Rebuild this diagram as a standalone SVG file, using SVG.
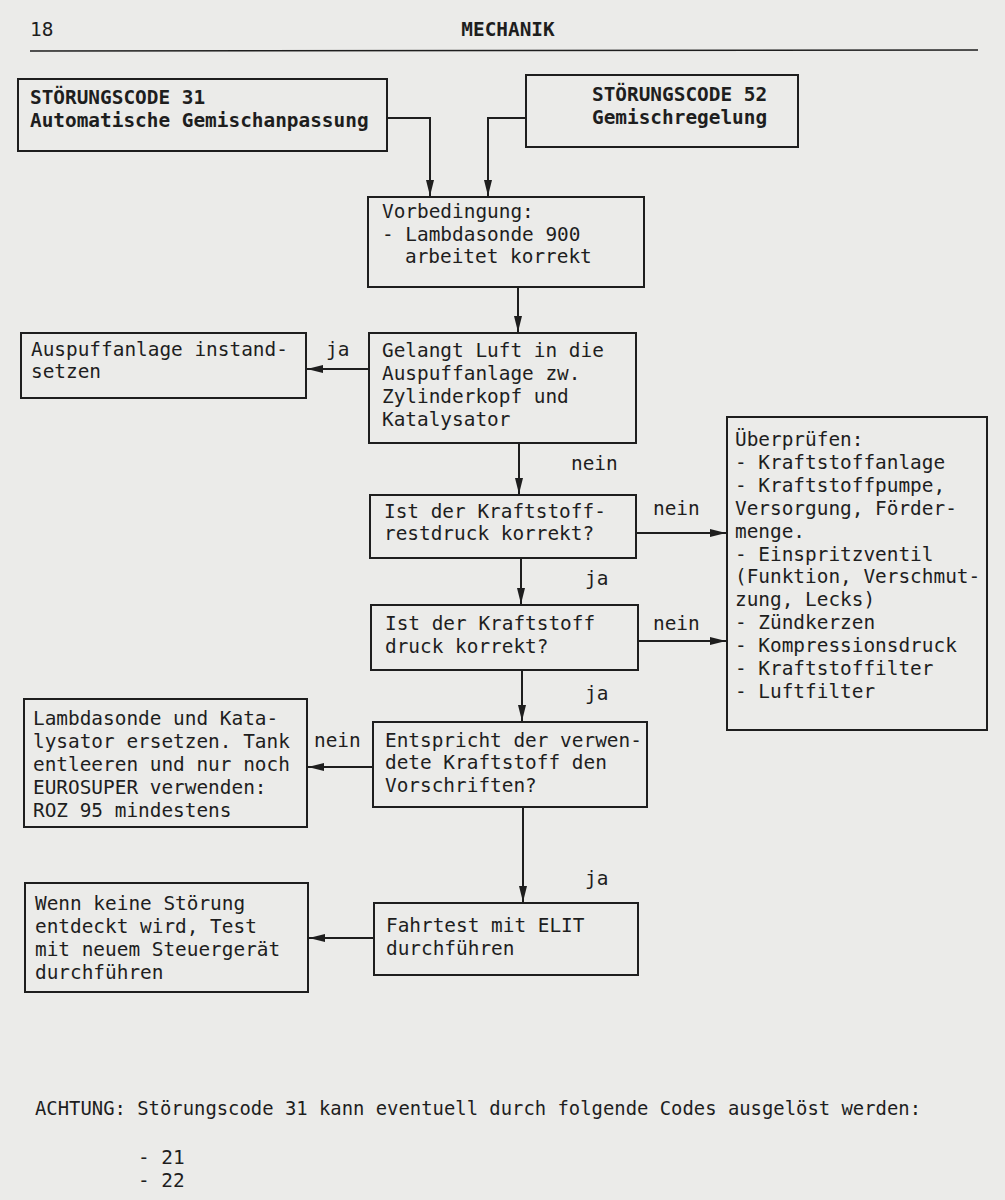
<svg xmlns="http://www.w3.org/2000/svg" width="1005" height="1200" viewBox="0 0 1005 1200">
<style>
.bg{fill:#ebebe9}
.box{fill:none;stroke:#1e1e1e;stroke-width:2}
.t{font-family:"DejaVu Sans Mono","Liberation Mono",monospace;font-size:19.4px;fill:#1e1e1e}
.b{font-weight:bold}
.edge{fill:none;stroke:#1e1e1e;stroke-width:2}
.lbl{font-family:"DejaVu Sans Mono","Liberation Mono",monospace;font-size:19.4px;fill:#1e1e1e}
</style>
<defs>
<marker id="ah" markerWidth="16" markerHeight="8" refX="16" refY="4" orient="auto" markerUnits="userSpaceOnUse"><path d="M0,0 L16,4 L0,8 z" fill="#1e1e1e"/></marker>
</defs>
<rect class="bg" x="0" y="0" width="1005" height="1200"/>
<g id="header">
<text class="t" x="30" y="36" font-size="21">18</text>
<text class="t b" x="508" y="36" text-anchor="middle">MECHANIK</text>
<line x1="30" y1="51" x2="978" y2="50" stroke="#1e1e1e" stroke-width="1.5"/>
</g>
<g id="connectors">
<path class="edge" d="M387,118 H430 V196" marker-end="url(#ah)"/>
<path class="edge" d="M526,118 H488 V196" marker-end="url(#ah)"/>
<path class="edge" d="M518,287 V332" marker-end="url(#ah)"/>
<path class="edge" d="M369,369 H307" marker-end="url(#ah)"/>
<path class="edge" d="M519,443 V494" marker-end="url(#ah)"/>
<path class="edge" d="M636,533 H726" marker-end="url(#ah)"/>
<path class="edge" d="M521,558 V604" marker-end="url(#ah)"/>
<path class="edge" d="M638,641 H726" marker-end="url(#ah)"/>
<path class="edge" d="M522,670 V721" marker-end="url(#ah)"/>
<path class="edge" d="M373,767 H308" marker-end="url(#ah)"/>
<path class="edge" d="M523,807 V902" marker-end="url(#ah)"/>
<path class="edge" d="M374,938 H309" marker-end="url(#ah)"/>
<text class="lbl" x="326" y="356">ja</text>
<text class="lbl" x="571" y="470">nein</text>
<text class="lbl" x="653" y="515">nein</text>
<text class="lbl" x="585" y="585">ja</text>
<text class="lbl" x="653" y="630">nein</text>
<text class="lbl" x="585" y="700">ja</text>
<text class="lbl" x="314" y="747">nein</text>
<text class="lbl" x="585" y="885">ja</text>
</g>
<g id="code31">
<rect class="box" x="18" y="79" width="369" height="72"/>
<text class="t b" x="30" y="104">STÖRUNGSCODE 31</text>
<text class="t b" x="30" y="127">Automatische Gemischanpassung</text>
</g>
<g id="code52">
<rect class="box" x="526" y="75" width="272" height="72"/>
<text class="t b" x="592" y="101">STÖRUNGSCODE 52</text>
<text class="t b" x="592" y="124">Gemischregelung</text>
</g>
<g id="vorbedingung">
<rect class="box" x="368" y="197" width="276" height="90"/>
<text class="t" x="382" y="218">Vorbedingung:</text>
<text class="t" x="382" y="241">- Lambdasonde 900</text>
<text class="t" x="405" y="263">arbeitet korrekt</text>
</g>
<g id="auspuff">
<rect class="box" x="21" y="333" width="285" height="65"/>
<text class="t" x="31" y="356">Auspuffanlage instand-</text>
<text class="t" x="31" y="378">setzen</text>
</g>
<g id="luft">
<rect class="box" x="369" y="333" width="267" height="110"/>
<text class="t" x="382" y="357">Gelangt Luft in die</text>
<text class="t" x="382" y="380">Auspuffanlage zw.</text>
<text class="t" x="382" y="403">Zylinderkopf und</text>
<text class="t" x="382" y="426">Katalysator</text>
</g>
<g id="restdruck">
<rect class="box" x="370" y="495" width="266" height="63"/>
<text class="t" x="384" y="518">Ist der Kraftstoff-</text>
<text class="t" x="384" y="540">restdruck korrekt?</text>
</g>
<g id="druck">
<rect class="box" x="371" y="605" width="267" height="65"/>
<text class="t" x="385" y="630">Ist der Kraftstoff</text>
<text class="t" x="385" y="653">druck korrekt?</text>
</g>
<g id="pruefen">
<rect class="box" x="727" y="417" width="260" height="313"/>
<text class="t" x="735" y="446">Überprüfen:</text>
<text class="t" x="735" y="469">- Kraftstoffanlage</text>
<text class="t" x="735" y="492">- Kraftstoffpumpe,</text>
<text class="t" x="735" y="515">Versorgung, Förder-</text>
<text class="t" x="735" y="538">menge.</text>
<text class="t" x="735" y="561">- Einspritzventil</text>
<text class="t" x="735" y="583">(Funktion, Verschmut-</text>
<text class="t" x="735" y="606">zung, Lecks)</text>
<text class="t" x="735" y="629">- Zündkerzen</text>
<text class="t" x="735" y="652">- Kompressionsdruck</text>
<text class="t" x="735" y="675">- Kraftstoffilter</text>
<text class="t" x="735" y="698">- Luftfilter</text>
</g>
<g id="kraftstoff">
<rect class="box" x="373" y="722" width="274" height="85"/>
<text class="t" x="385" y="747">Entspricht der verwen-</text>
<text class="t" x="385" y="769">dete Kraftstoff den</text>
<text class="t" x="385" y="792">Vorschriften?</text>
</g>
<g id="lambda">
<rect class="box" x="24" y="699" width="283" height="128"/>
<text class="t" x="33" y="725">Lambdasonde und Kata-</text>
<text class="t" x="33" y="748">lysator ersetzen. Tank</text>
<text class="t" x="33" y="771">entleeren und nur noch</text>
<text class="t" x="33" y="794">EUROSUPER verwenden:</text>
<text class="t" x="33" y="817">ROZ 95 mindestens</text>
</g>
<g id="fahrtest">
<rect class="box" x="374" y="903" width="264" height="72"/>
<text class="t" x="386" y="932">Fahrtest mit ELIT</text>
<text class="t" x="386" y="955">durchführen</text>
</g>
<g id="wenn">
<rect class="box" x="25" y="883" width="283" height="109"/>
<text class="t" x="35" y="910">Wenn keine Störung</text>
<text class="t" x="35" y="933">entdeckt wird, Test</text>
<text class="t" x="35" y="956">mit neuem Steuergerät</text>
<text class="t" x="35" y="979">durchführen</text>
</g>
<g id="footer">
<text class="t" x="35" y="1115" textLength="886" lengthAdjust="spacingAndGlyphs">ACHTUNG: Störungscode 31 kann eventuell durch folgende Codes ausgelöst werden:</text>
<text class="t" x="138" y="1164">- 21</text>
<text class="t" x="138" y="1187">- 22</text>
</g>
</svg>
